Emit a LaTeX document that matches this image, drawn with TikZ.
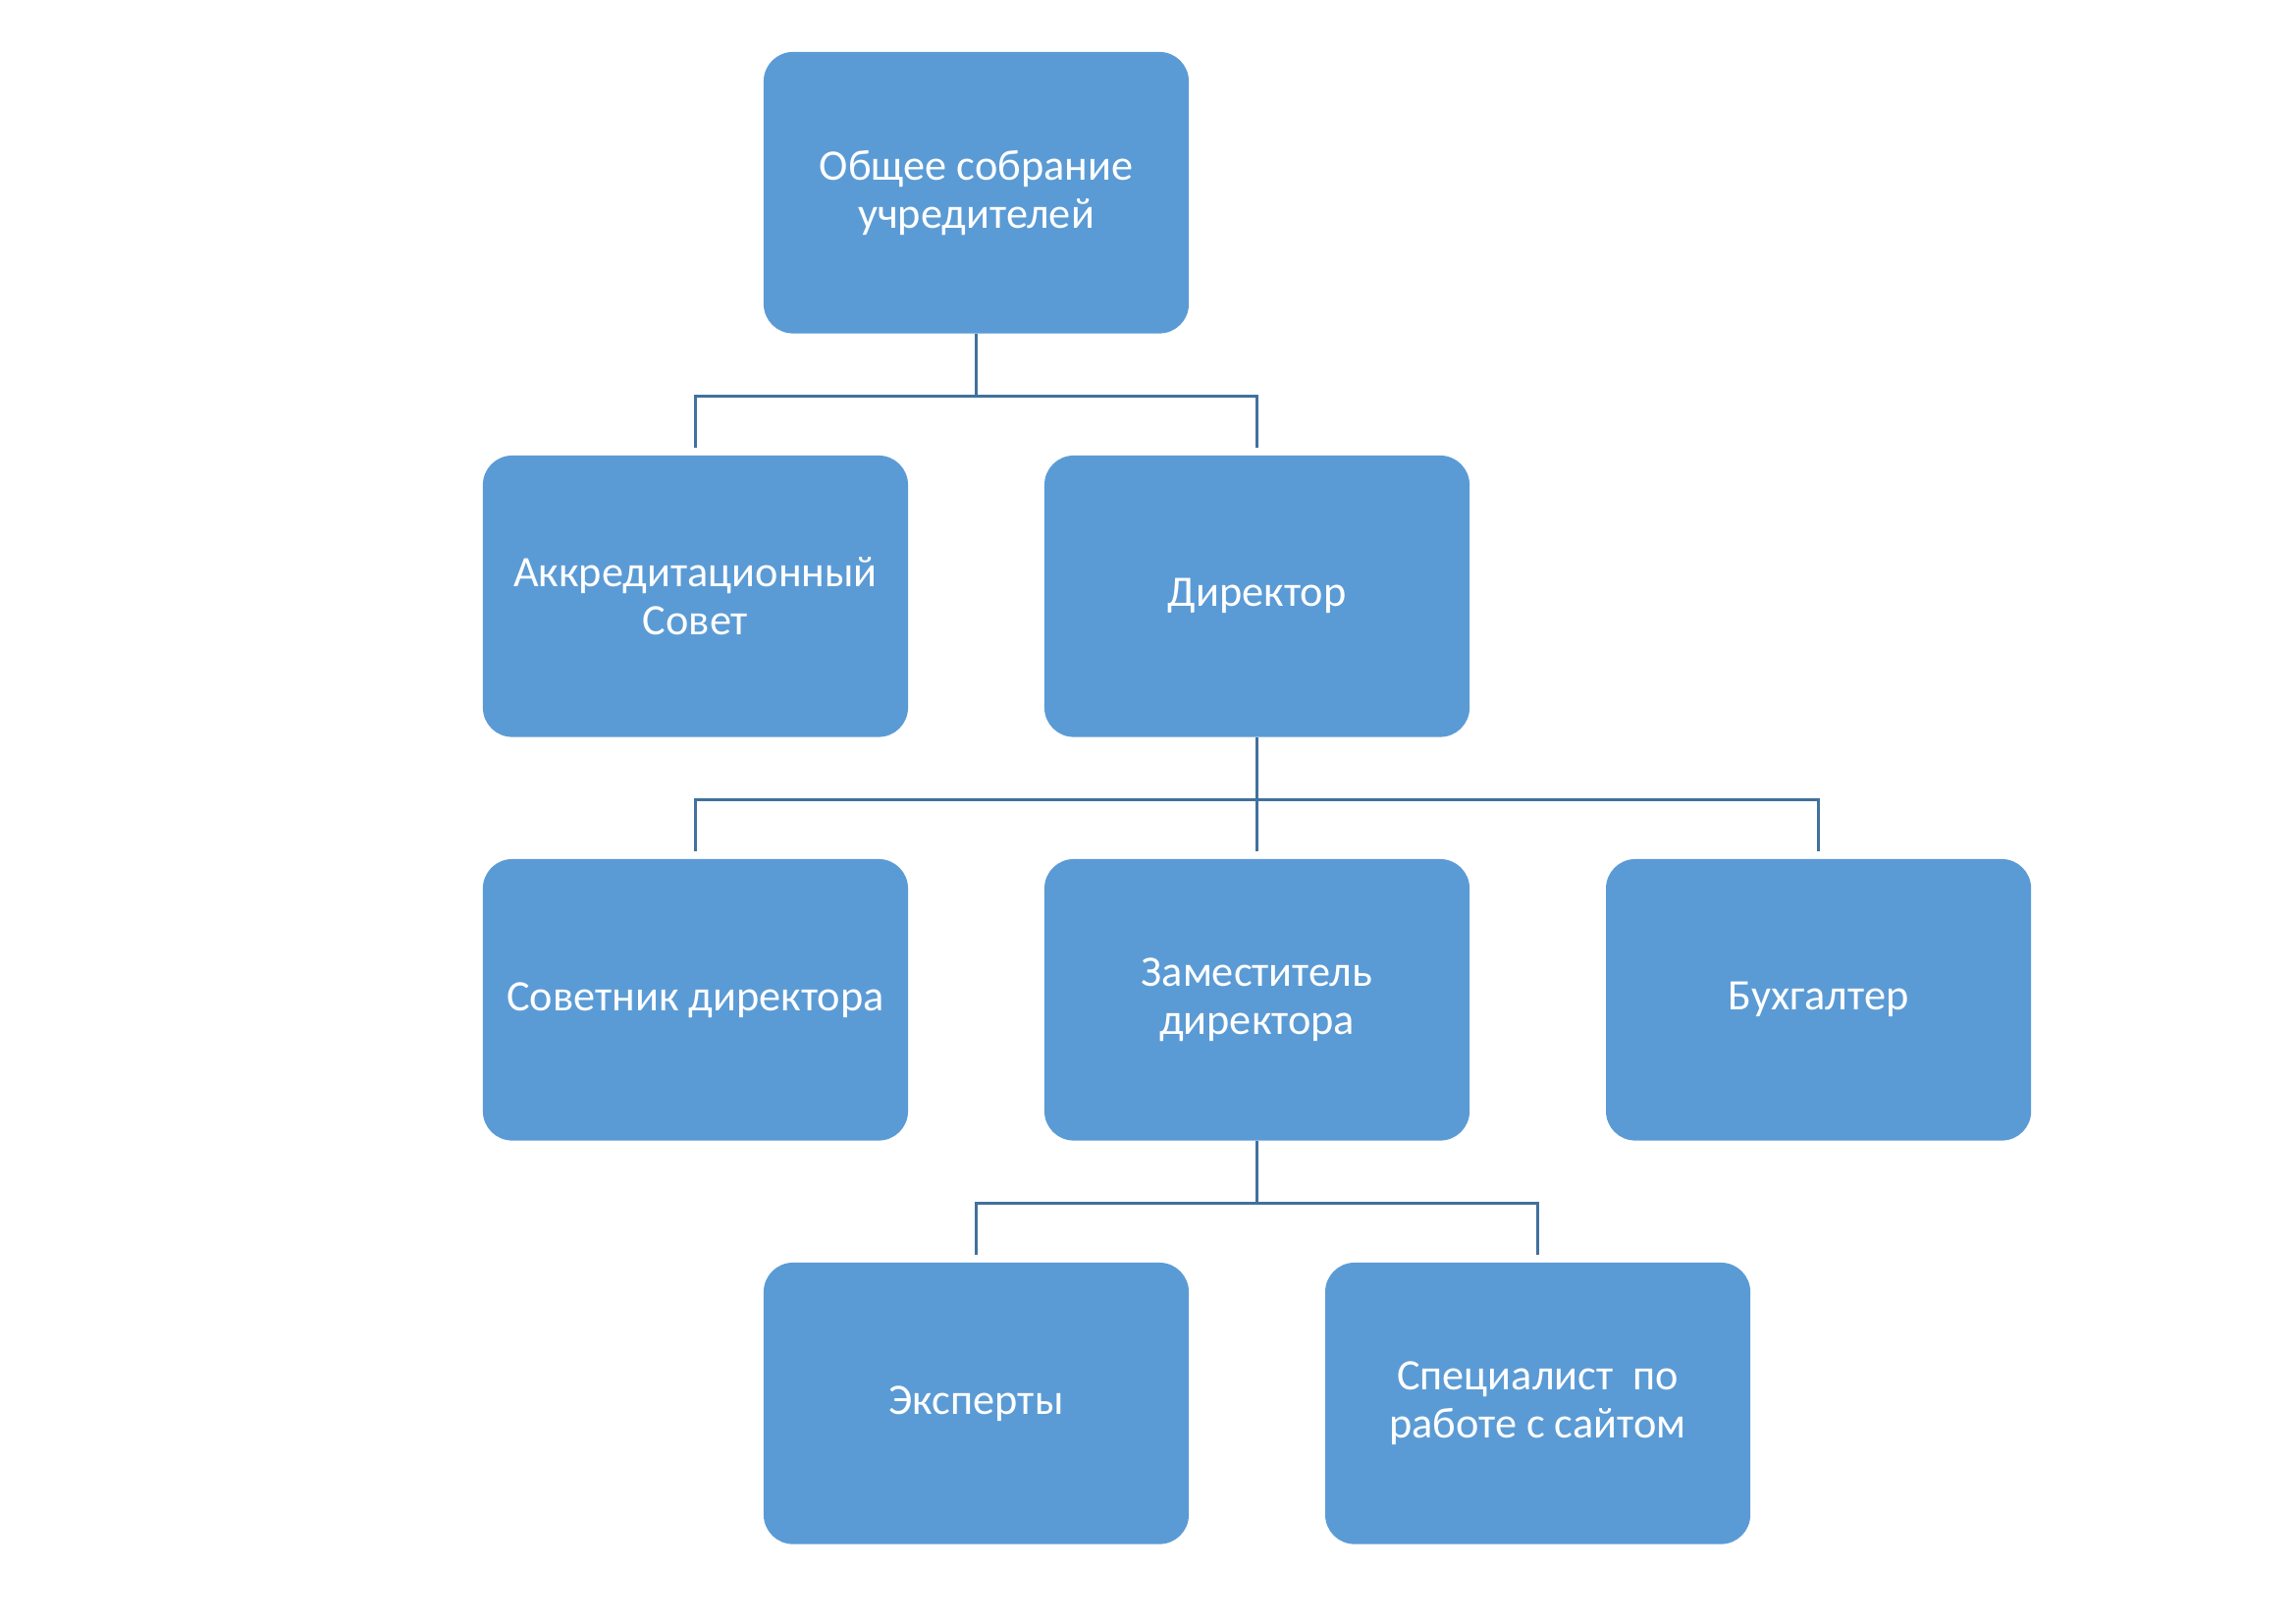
\documentclass[tikz,border=0pt]{standalone}
\usepackage{fontspec}
\setmainfont{Carlito}
\usetikzlibrary{matrix}
\definecolor{boxblue}{HTML}{5B9BD5}
\definecolor{lineblue}{HTML}{41719C}
\begin{document}
\begin{tikzpicture}[every node/.style={fill=boxblue, text=white, rounded corners=0.38cm,
    minimum width=5.5cm, minimum height=3.64cm, inner sep=0pt, align=center,
    font=\fontsize{16}{17.6}\selectfont},
  conn/.style={draw=lineblue, line width=1.1pt, shorten >=0.09cm}]
  \useasboundingbox (0,0) rectangle (29.7,-21);
        \matrix[column sep={3.632cm,between origins}, row sep={5.219cm,between origins},
          ampersand replacement=\&, fill=none, rounded corners=0pt] at (16.26,-10.32)
        {
          \& \node(OS) {Общее собрание\\учредителей}; \&\&\&\\
          \node(AS) {Аккредитационный\\Совет}; \&\& \node(DIR) {Директор}; \&\&\\
          \node(SOV) {Советник директора}; \&\& \node(ZAM) {Заместитель\\директора}; \&\&
          \node(BUH) {Бухгалтер};\\
          \& \node(EXP) {Эксперты}; \&\& \node(SPEC) {Специалист~ по\\работе с сайтом}; \&\\
        };
      \draw[conn] (OS.south) -- ++(0,-0.8) -| (AS.north);
      \draw[conn] (OS.south) -- ++(0,-0.8) -| (DIR.north);
      \draw[conn] (DIR.south) -- ++(0,-0.8) -| (SOV.north);
      \draw[conn] (DIR.south) -- (ZAM.north);
      \draw[conn] (DIR.south) -- ++(0,-0.8) -| (BUH.north);
      \draw[conn] (ZAM.south) -- ++(0,-0.8) -| (EXP.north);
      \draw[conn] (ZAM.south) -- ++(0,-0.8) -| (SPEC.north);
      \end{tikzpicture}
\end{document}
